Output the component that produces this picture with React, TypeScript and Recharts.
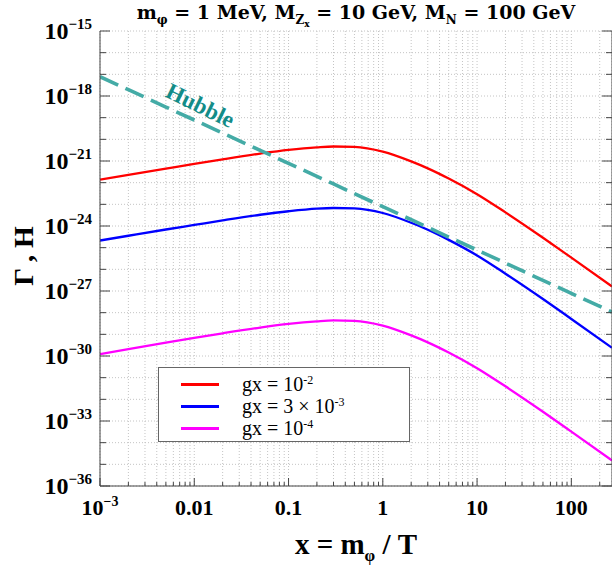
import React from "react";
import {
  LineChart,
  Line,
  XAxis,
  YAxis,
  CartesianGrid,
  Legend,
} from "recharts";

// x = m_phi / T
const xValues = [0.001, 0.002, 0.005, 0.01, 0.02, 0.05, 0.1, 0.2, 0.3, 0.5, 1, 2, 3, 5, 10, 20, 50, 100, 270];

// interaction rates
const rateG1e2 = [1.38e-22, 2.29e-22, 4.47e-22, 7.41e-22, 1.2e-21, 2.19e-21, 3.24e-21, 4.27e-21, 4.68e-21, 4.47e-21, 2.69e-21, 9.55e-22, 4.57e-22, 1.55e-22, 2.95e-23, 4.27e-24, 2.88e-25, 3.47e-26, 1.62e-27];
const rateG3e3 = [2.14e-25, 3.55e-25, 6.9e-25, 1.12e-24, 1.82e-24, 3.31e-24, 4.79e-24, 6.31e-24, 6.76e-24, 6.46e-24, 3.98e-24, 1.41e-24, 6.76e-25, 2.29e-25, 4.37e-26, 6.31e-27, 4.27e-28, 5.13e-29, 2.4e-30];
const rateG1e4 = [1.23e-30, 2.09e-30, 4.17e-30, 6.92e-30, 1.12e-29, 2.04e-29, 3.02e-29, 3.98e-29, 4.37e-29, 4.17e-29, 2.51e-29, 8.9e-30, 4.27e-30, 1.45e-30, 2.75e-31, 3.98e-32, 2.69e-33, 3.24e-34, 1.51e-35];
const hubble = [7.8e-18, 1.95e-18, 3.1e-19, 7.8e-20, 1.95e-20, 3.1e-21, 7.8e-22, 1.95e-22, 8.7e-23, 3.1e-23, 7.8e-24, 1.95e-24, 8.7e-25, 3.1e-25, 7.8e-26, 1.95e-26, 3.1e-27, 7.8e-28, 1.07e-28];

const xMajor = [0.001, 0.01, 0.1, 1, 10, 100];
const xMajorLabels = ["10^-3", "0.01", "0.1", "1", "10", "100"];
const yDecades = [-36, -35, -34, -33, -32, -31, -30, -29, -28, -27, -26, -25, -24, -23, -22, -21, -20, -19, -18, -17, -16, -15];
const yLabelled = [-36, -33, -30, -27, -24, -21, -18, -15];

const legendItems = [
  { key: "g1", color: "#ff0000", base: "gx = 10", exp: "-2" },
  { key: "g2", color: "#0000ff", base: "gx = 3 × 10", exp: "-3" },
  { key: "g3", color: "#ff00ff", base: "gx = 10", exp: "-4" },
];

const data = xValues.map((x, i) => ({
  x,
  g1: rateG1e2[i],
  g2: rateG3e3[i],
  g3: rateG1e4[i],
  hubble: hubble[i],
}));

const xTicks: number[] = [];
xMajor.forEach((d) => {
  for (let k = 1; k <= 9; k++) {
    const v = d * k;
    if (v <= 270) xTicks.push(v);
  }
});
const yTicks = yDecades.map((e) => Number("1e" + e));

const FONT = "'Liberation Serif', 'Times New Roman', serif";
const WIDE = "'DejaVu Serif', serif";
const AXIS = "#444";

const isMajor = (v: number) => {
  const l = Math.log10(v);
  return Math.abs(l - Math.round(l)) < 1e-6;
};

const BottomTick = (props: any) => {
  const { x, y, payload } = props;
  const v = payload.value;
  const major = isMajor(v);
  const idx = xMajor.findIndex((m) => Math.abs(m - v) / m < 1e-6);
  const label = idx >= 0 ? xMajorLabels[idx] : null;
  return (
    <g>
      <line x1={x} x2={x} y1={y} y2={y - (major ? 8 : 4)} stroke={AXIS} />
      {label && (
        <text x={x} y={y + 29} textAnchor="middle" fontFamily={FONT} fontWeight="bold" fontSize={22} fill="#000">
          {label.startsWith("10^") ? (
            <>
              <tspan>10</tspan>
              <tspan dy={-9} fontSize={14}>{"−" + label.slice(4)}</tspan>
            </>
          ) : (
            label
          )}
        </text>
      )}
    </g>
  );
};

const TopTick = (props: any) => {
  const { x, y, payload } = props;
  const major = isMajor(payload.value);
  return <line x1={x} x2={x} y1={y} y2={y + (major ? 8 : 4)} stroke={AXIS} />;
};

const LeftTick = (props: any) => {
  const { x, y, payload } = props;
  const e = Math.round(Math.log10(payload.value));
  const labelled = yLabelled.includes(e);
  return (
    <g>
      <line x1={x} x2={x + (labelled ? 10 : 6)} y1={y} y2={y} stroke={AXIS} />
      {labelled && (
        <text x={x - 8} y={y + 8} textAnchor="end" fontFamily={FONT} fontWeight="bold" fontSize={24} fill="#000">
          <tspan>10</tspan>
          <tspan dy={-10} fontSize={15}>{"−" + Math.abs(e)}</tspan>
        </text>
      )}
    </g>
  );
};

const RightTick = (props: any) => {
  const { x, y, payload } = props;
  const e = Math.round(Math.log10(payload.value));
  const labelled = yLabelled.includes(e);
  return <line x1={x} x2={x - (labelled ? 10 : 6)} y1={y} y2={y} stroke={AXIS} />;
};

const LegendBox = () => (
  <div
    style={{
      width: 252,
      height: 75,
      border: "1px solid #666",
      background: "#fff",
      fontFamily: FONT,
      fontSize: 20,
      boxSizing: "border-box",
      paddingTop: 5,
    }}
  >
    {legendItems.map((it) => (
      <div key={it.key} style={{ display: "flex", alignItems: "center", height: 22 }}>
        <div style={{ width: 38, height: 3, background: it.color, marginLeft: 22, marginRight: 23 }} />
        <span style={{ lineHeight: "16px", whiteSpace: "nowrap" }}>
          {it.base}
          <span style={{ fontSize: 12, position: "relative", top: -7, lineHeight: "10px" }}>{it.exp}</span>
        </span>
      </div>
    ))}
  </div>
);

export default function App() {
  return (
    <div style={{ position: "absolute", left: 0, top: 0, width: 612, height: 568, overflow: "hidden", background: "#fff" }}>
      <LineChart
        width={613}
        height={568}
        data={data}
        margin={{ top: 31, right: 0, bottom: 0, left: 0 }}
      >
        <CartesianGrid stroke="#c4c4c4" strokeDasharray="1 2" />
        <XAxis
          dataKey="x"
          type="number"
          scale="log"
          domain={[0.001, 270]}
          allowDataOverflow
          ticks={xTicks}
          interval={0}
          tick={<BottomTick />}
          tickLine={false}
          tickSize={0}
          tickMargin={0}
          height={82}
          stroke={AXIS}
        />
        <XAxis
          xAxisId="top"
          orientation="top"
          dataKey="x"
          type="number"
          scale="log"
          domain={[0.001, 270]}
          allowDataOverflow
          ticks={xTicks}
          interval={0}
          tick={<TopTick />}
          tickLine={false}
          tickSize={0}
          tickMargin={0}
          height={0}
          stroke={AXIS}
        />
        <YAxis
          type="number"
          scale="log"
          domain={[1e-36, 1e-15]}
          allowDataOverflow
          ticks={yTicks}
          interval={0}
          tick={<LeftTick />}
          tickLine={false}
          tickSize={0}
          tickMargin={0}
          width={100}
          stroke={AXIS}
        />
        <YAxis
          yAxisId="right"
          orientation="right"
          type="number"
          scale="log"
          domain={[1e-36, 1e-15]}
          allowDataOverflow
          ticks={yTicks}
          interval={0}
          tick={<RightTick />}
          tickLine={false}
          tickSize={0}
          tickMargin={0}
          width={1}
          stroke={AXIS}
        />
        <Legend
          layout="vertical"
          align="center"
          verticalAlign="middle"
          content={<LegendBox />}
          wrapperStyle={{ left: 158, top: 367, width: 252, height: 75 }}
        />
        <Line dataKey="g1" type="monotone" stroke="#ff0000" strokeWidth={2.3} dot={false} isAnimationActive={false} />
        <Line dataKey="g2" type="monotone" stroke="#0000ff" strokeWidth={2.3} dot={false} isAnimationActive={false} />
        <Line dataKey="g3" type="monotone" stroke="#ff00ff" strokeWidth={2.3} dot={false} isAnimationActive={false} />
        <Line
          dataKey="hubble"
          type="linear"
          stroke="#44aba6"
          strokeWidth={3.6}
          strokeDasharray="20 8"
          dot={false}
          isAnimationActive={false}
        />
      </LineChart>

      <div
        style={{
          position: "absolute",
          left: 100,
          width: 512,
          top: 0,
          textAlign: "center",
          fontFamily: WIDE,
          fontWeight: "bold",
          fontSize: 19,
          lineHeight: "24px",
          whiteSpace: "nowrap",
        }}
      >
        m<sub style={{ fontSize: 12 }}>φ</sub> = 1 MeV, M
        <sub style={{ fontSize: 12 }}>
          Z<sub style={{ fontSize: 9 }}>x</sub>
        </sub>{" "}
        = 10 GeV, M<sub style={{ fontSize: 12 }}>N</sub> = 100 GeV
      </div>

      <div
        style={{
          position: "absolute",
          left: 100,
          width: 512,
          top: 527,
          textAlign: "center",
          fontFamily: FONT,
          fontWeight: "bold",
          fontSize: 29,
          lineHeight: "34px",
          whiteSpace: "nowrap",
        }}
      >
        x = m<sub style={{ fontSize: 17 }}>φ</sub> / T
      </div>

      <div
        style={{
          position: "absolute",
          left: 24,
          top: 256,
          transform: "translate(-50%, -50%) rotate(-90deg)",
          fontFamily: FONT,
          fontWeight: "bold",
          fontSize: 28,
          whiteSpace: "nowrap",
        }}
      >
        Γ , H
      </div>

      <div
        style={{
          position: "absolute",
          left: 200,
          top: 106,
          transform: "translate(-50%, -50%) rotate(26deg)",
          fontFamily: FONT,
          fontWeight: "bold",
          fontSize: 23,
          color: "#138c88",
          whiteSpace: "nowrap",
        }}
      >
        Hubble
      </div>
    </div>
  );
}
